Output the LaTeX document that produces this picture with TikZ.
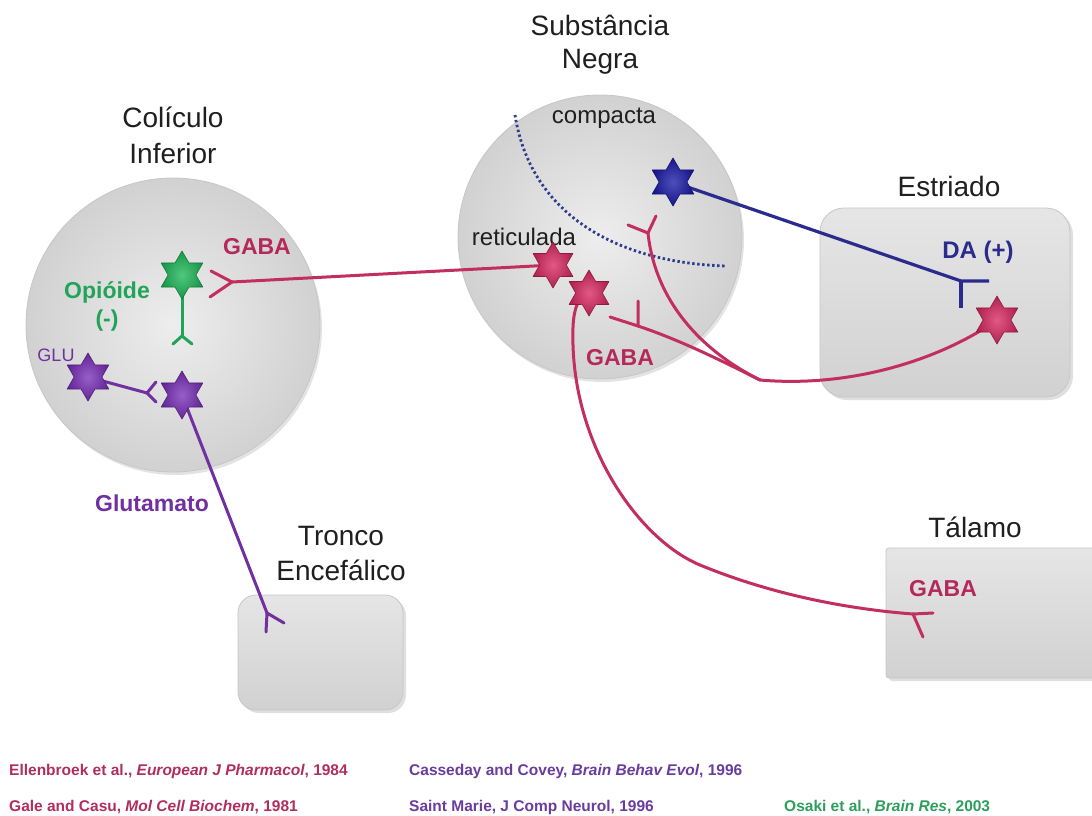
\documentclass[tikz,border=0pt]{standalone}
\usepackage{fontspec}
\setmainfont{Liberation Sans}
\usetikzlibrary{shadows}

\definecolor{gabaline}{HTML}{C22F5E}
\definecolor{gabatext}{HTML}{B5295A}
\definecolor{gabastar}{HTML}{D92A62}
\definecolor{glupurple}{HTML}{7030A0}
\definecolor{glustar}{HTML}{7A30B8}
\definecolor{opigreen}{HTML}{22A458}
\definecolor{opistar}{HTML}{1FB85A}
\definecolor{danavy}{HTML}{2B2B8E}
\definecolor{dastar}{HTML}{1C1CA8}
\definecolor{dotnavy}{HTML}{2E3C8C}
\definecolor{refred}{HTML}{B02E5E}
\definecolor{refpurple}{HTML}{6A3C9E}
\definecolor{refgreen}{HTML}{2E9E5E}

% six-pointed star drawn round a named spot
\newcommand\hexstar[3]{% spot name, outer radius, colour
  \shadedraw[inner color=#3!78!white, outer color=#3!82!black,
    draw=#3!65!black, line width=0.6pt, line join=round]
    (#1.center) +(90:#2)
    \foreach \k in {1,...,11}{ -- +({90+30*\k}:{#2*(1-0.42*mod(\k,2))}) } -- cycle;}

\tikzset{
  regioncircle/.style={circle, inner sep=0pt, inner color=black!7, outer color=black!18,
    draw=black!22, line width=0.8pt,
    drop shadow={shadow xshift=2pt, shadow yshift=-3pt, opacity=0.22}},
  regionbox/.style={rectangle, inner sep=0pt, top color=black!10, bottom color=black!18,
    draw=black!22, line width=0.8pt,
    drop shadow={shadow xshift=3pt, shadow yshift=-3pt, opacity=0.25}},
  starspot/.style={circle, inner sep=0pt, minimum size=12pt},
  title/.style={font=\fontsize{28}{33}\selectfont, text=black!88, inner sep=0pt, anchor=base},
  partlabel/.style={font=\fontsize{24}{28}\selectfont, text=black!88, inner sep=0pt},
  tag/.style={font=\bfseries\fontsize{23}{27}\selectfont, inner sep=0pt},
  axon/.style={line width=3pt, line cap=round, line join=round},
  gabaaxon/.style={axon, draw=gabaline},
  gluaxon/.style={axon, draw=glupurple},
  opiaxon/.style={axon, draw=opigreen},
  daaxon/.style={axon, draw=danavy, line width=3.2pt, line join=miter, line cap=butt},
  partborder/.style={draw=dotnavy, line width=2.8pt, dash pattern=on 2.4pt off 2.6pt},
  ref/.style={font=\bfseries\fontsize{15.5}{18}\selectfont, inner sep=0pt, anchor=base west},
}

\begin{document}
\begin{tikzpicture}[x=1pt, y=-1pt]
\useasboundingbox (0,0) rectangle (1092,816);
\fill[white] (0,0) rectangle (1092,816);

% brain regions
\node[regioncircle, minimum size=294pt] (ci) at (173,325) {};
\node[regioncircle, minimum size=284pt] (sn) at (600,237) {};
\node[regionbox, minimum width=250pt, minimum height=189pt, rounded corners=24pt] (str) at (945,302.5) {};
\node[regionbox, minimum width=165pt, minimum height=115pt, rounded corners=18pt] (tr) at (320.5,652.5) {};
\node[regionbox, minimum width=240pt, minimum height=130pt, rounded corners=3pt] (th) at (1006,613) {};

% region titles
\node[title] (tSN1) at (600,36) {Substância};
\node[title] (tSN2) at (600,68) {Negra};
\node[title] (tCI1) at (173,127) {Colículo};
\node[title] (tCI2) at (173,163) {Inferior};
\node[title] (tST) at (949,196) {Estriado};
\node[title] (tTH) at (975,537) {Tálamo};
\node[title] (tTR1) at (341,545) {Tronco};
\node[title] (tTR2) at (341,580) {Encefálico};

% pars compacta / pars reticulata
\draw[partborder] (515,115) .. controls (530,210) and (610,262) .. (725,266);
\node[partlabel] (pc) at (604,118) {compacta};
\node[partlabel] (pr) at (524,237) {reticulada};

% neuron bodies
\node[starspot] (gs) at (182,275) {};
\node[starspot] (glu) at (88,377) {};
\node[starspot] (ps) at (182,395) {};
\node[starspot] (rs1) at (553,265) {};
\node[starspot] (rs2) at (589,293) {};
\node[starspot] (bs) at (673,182) {};
\node[starspot] (es) at (997,320) {};

% synaptic terminals
\coordinate (opiT) at (182,336);
\coordinate (gluT) at (147,393);
\coordinate (glutT) at (267,613);
\coordinate (ciT) at (232,282);
\coordinate (daT) at (961,281);
\coordinate (pcT) at (648,233);
\coordinate (prT) at (638,326);
\coordinate (join) at (760,380);
\coordinate (thT) at (913,614);

% opioid interneuron
\draw[opiaxon] (gs.center) -- (opiT);
\draw[opiaxon] (opiT) -- +(-9,8) (opiT) -- +(10,8);

% glutamatergic inputs
\draw[gluaxon] (glu.center) -- (gluT);
\draw[gluaxon] (gluT) -- +(9,-11) (gluT) -- +(9,9);
\draw[gluaxon] (ps.center) -- (glutT);
\draw[gluaxon] (glutT) -- +(-1,19) (glutT) -- +(17,10);

% GABA: nigra -> inferior colliculus
\draw[gabaaxon] (rs1.center) -- (ciT);
\draw[gabaaxon] (ciT) -- +(-21,-11) (ciT) -- +(-22,15);

% dopamine: compacta -> striatum
\draw[daaxon] (bs.center) -- (daT) -- +(28,0);
\draw[daaxon] (daT) -- +(0,27);

% GABA: striatum -> nigra
\draw[gabaaxon] (es.center) .. controls (940,360) and (850,388) .. (join);
\draw[gabaaxon] (join) .. controls (700,350) and (655,300) .. (pcT);
\draw[gabaaxon] (pcT) -- +(-20,-8) (pcT) -- +(8,-17);
\draw[gabaaxon] (join) .. controls (720,360) and (680,340) .. (prT);
\draw[gabaaxon] (prT) -- +(-28,-9) (prT) -- +(0,-25);

% GABA: nigra -> thalamus
\draw[gabaaxon] (rs2.center) .. controls (575,298) and (572,315) .. (573,345)
  .. controls (576,450) and (640,540) .. (700,565)
  .. controls (780,598) and (860,610) .. (thT);
\draw[gabaaxon] (thT) -- +(20,-1) (thT) -- +(10,23);

% cell bodies on top of the fibres
\hexstar{gs}{24}{opistar}
\hexstar{glu}{24}{glustar}
\hexstar{ps}{24}{glustar}
\hexstar{rs1}{23}{gabastar}
\hexstar{rs2}{23}{gabastar}
\hexstar{bs}{24}{dastar}
\hexstar{es}{24}{gabastar}

% transmitter labels
\node[tag, text=gabatext] (gabaCI) at (257,247) {GABA};
\node[tag, text=gabatext] (gabaSN) at (620,358) {GABA};
\node[tag, text=gabatext] (gabaTH) at (943,589) {GABA};
\node[tag, text=opigreen] (opi1) at (107,292) {Opióide};
\node[tag, text=opigreen] (opi2) at (107,321) {(-)};
\node[font=\fontsize{18}{21}\selectfont, text=glupurple, inner sep=0pt] (gluL) at (56,355) {GLU};
\node[tag, text=glupurple] (glutL) at (152,503) {Glutamato};
\node[tag, text=danavy, font=\bfseries\fontsize{24}{28}\selectfont] (daL) at (978,252) {DA (+)};

% references
\node[ref, text=refred] (r1) at (9,775) {Ellenbroek et al., \textit{European J Pharmacol}, 1984};
\node[ref, text=refred] (r2) at (9,811) {Gale and Casu, \textit{Mol Cell Biochem}, 1981};
\node[ref, text=refpurple] (r3) at (409,775) {Casseday and Covey, \textit{Brain Behav Evol}, 1996};
\node[ref, text=refpurple] (r4) at (409,811) {Saint Marie, J Comp Neurol, 1996};
\node[ref, text=refgreen] (r5) at (784,811) {Osaki et al., \textit{Brain Res}, 2003};
\end{tikzpicture}
\end{document}
